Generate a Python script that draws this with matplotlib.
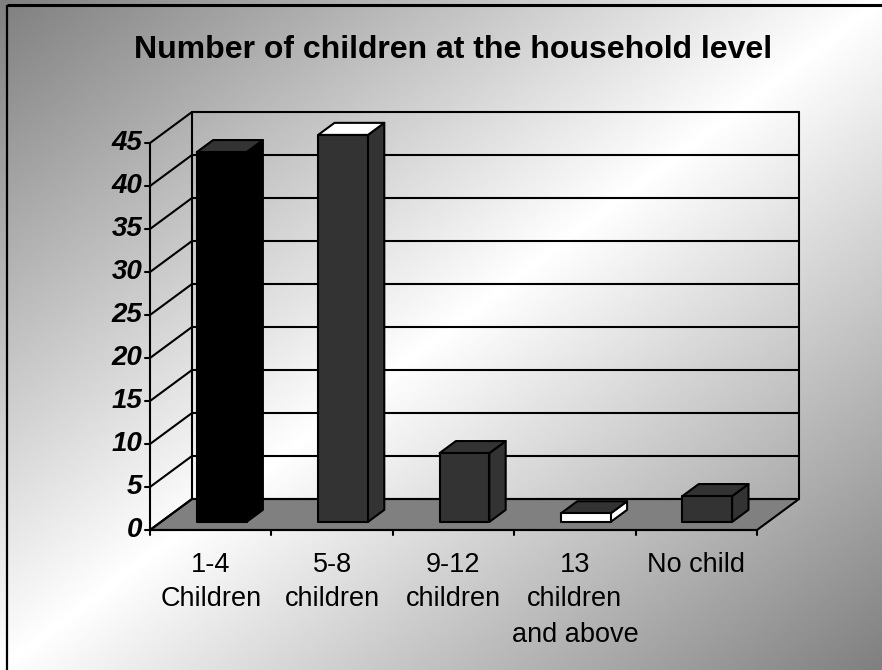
import numpy as np
import matplotlib
matplotlib.use("Agg")
import matplotlib.pyplot as plt
from matplotlib.patches import Polygon

# ---- data ----
categories = ["1-4\nChildren", "5-8\nchildren", "9-12\nchildren", "13\nchildren\nand above", "No child"]
values = [43, 45, 8, 1, 3]
y_ticks = [0, 5, 10, 15, 20, 25, 30, 35, 40, 45]
title = "Number of children at the household level"

# ---- styles (per bar: front, top, side) ----
face_front = ["#000000", "#333333", "#333333", "#ffffff", "#333333"]
face_top = ["#333333", "#ffffff", "#333333", "#333333", "#333333"]
face_side = ["#000000", "#333333", "#333333", "#ffffff", "#333333"]

W, H = 882, 670
fig = plt.figure(figsize=(W / 100, H / 100), dpi=100)
plt.rcParams['font.family'] = ['Liberation Sans', 'DejaVu Sans']

# background gradient
bg = fig.add_axes([0, 0, 1, 1])
xx, yy = np.meshgrid(np.linspace(0, 1, 400), np.linspace(0, 1, 300))
s = xx + yy
g = 0.5 + 0.5 * (1 - np.abs(s - 1))
bg.imshow(g, cmap="gray", vmin=0, vmax=1, aspect="auto", extent=[0, 1, 1, 0], interpolation="bilinear")
bg.set_xlim(0, 1)
bg.set_ylim(1, 0)
bg.axis("off")
# frame (left and top edges visible)
bg.plot([7 / W, 7 / W], [5 / H, 1.0], color="black", lw=1.6, solid_capstyle="butt")
bg.plot([7 / W, 1.0], [5 / H, 5 / H], color="black", lw=2.2, solid_capstyle="butt")

# main axes = front plane
ax = fig.add_axes([150 / W, (H - 530) / H, 607 / W, 387 / H])
ax.set_facecolor("none")
ncat = len(categories)
ymax = y_ticks[-1]
ax.set_xlim(0, ncat)
ax.set_ylim(0, ymax)
for sp in ax.spines.values():
    sp.set_visible(False)
ax.set_xticks([])
ax.set_yticks([])

DX = 42 / (607 / ncat)
DY = 31 / (387 / ymax)
lw = 1.5
kw = dict(color="black", lw=lw, clip_on=False, solid_capstyle="round")

# floor
floor = Polygon([(0, 0), (ncat, 0), (ncat + DX, DY), (DX, DY)], closed=True,
                facecolor="#808080", edgecolor="black", lw=lw, clip_on=False, zorder=1)
ax.add_patch(floor)

# back wall gridlines and outline
for t in y_ticks:
    ax.plot([DX, ncat + DX], [t + DY, t + DY], zorder=2, **kw)
    ax.plot([0, DX], [t, t + DY], zorder=2, **kw)
ax.plot([DX, DX], [DY, ymax + DY], zorder=2, **kw)
ax.plot([ncat + DX, ncat + DX], [DY, ymax + DY], zorder=2, **kw)
# front axis
ax.plot([0, 0], [0, ymax], zorder=3, **kw)
ax.plot([0, ncat], [0, 0], zorder=3, **kw)
tick_dx = 5 / (607 / ncat)
tick_dy = 5 / (387 / ymax)
for t in y_ticks:
    ax.plot([-tick_dx, 0], [t, t], zorder=3, **kw)
    ax.text(-tick_dx - 0.02, t, str(t), ha="right", va="center", fontsize=20,
            fontweight="bold", fontstyle="italic")
for i in range(ncat + 1):
    ax.plot([i, i], [0, -tick_dy], zorder=3, **kw)

for i, c in enumerate(categories):
    ax.text(i + 0.5, -2.5, c, ha="center", va="top", fontsize=19.5, linespacing=1.45)

# bars
bw = 0.41
d0, d1 = 0.26, 0.65
for i, v in enumerate(values):
    xl = i + 0.5 - bw / 2
    xr = i + 0.5 + bw / 2
    ox0, oy0 = d0 * DX, d0 * DY
    ox1, oy1 = d1 * DX, d1 * DY
    front = [(xl + ox0, oy0), (xr + ox0, oy0), (xr + ox0, v + oy0), (xl + ox0, v + oy0)]
    top = [(xl + ox0, v + oy0), (xr + ox0, v + oy0), (xr + ox1, v + oy1), (xl + ox1, v + oy1)]
    side = [(xr + ox0, oy0), (xr + ox1, oy1), (xr + ox1, v + oy1), (xr + ox0, v + oy0)]
    for pts, fc in ((side, face_side[i]), (top, face_top[i]), (front, face_front[i])):
        ax.add_patch(Polygon(pts, closed=True, facecolor=fc, edgecolor="black", lw=lw,
                             joinstyle="round", clip_on=False, zorder=5))

fig.text(453 / W, 1 - 50 / H, title, ha="center", va="center", fontsize=23, fontweight="bold")

fig.savefig("out.png", dpi=100)
